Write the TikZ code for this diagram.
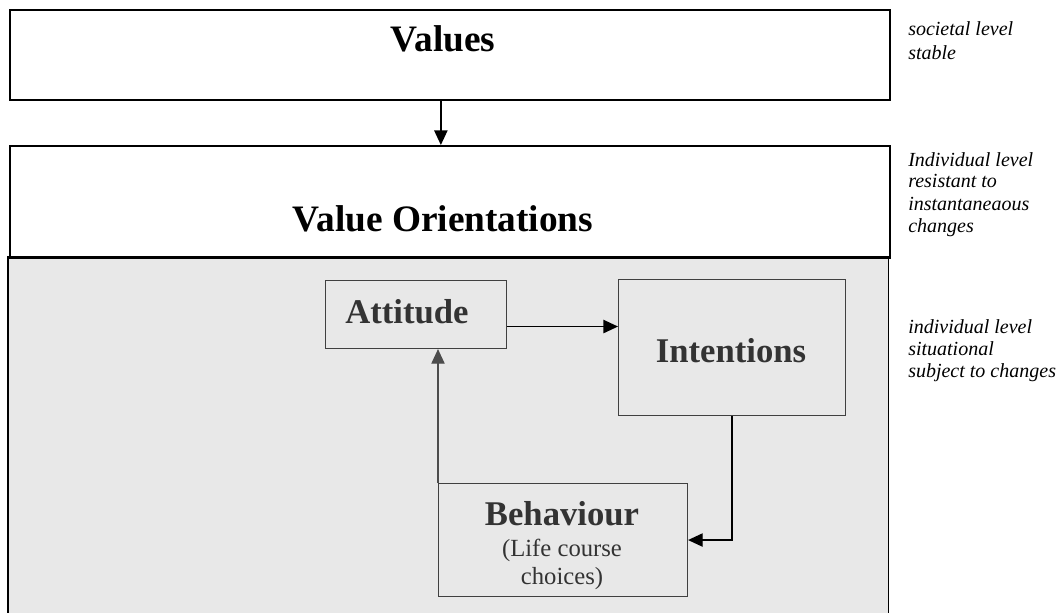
\documentclass[tikz,border=0pt]{standalone}
\usepackage{fontspec}
\setmainfont{Liberation Serif}
\usetikzlibrary{arrows.meta,positioning}

\begin{document}
\begin{tikzpicture}[x=0.75pt,y=-0.75pt,>={Triangle[length=11pt,width=10pt]},
  outer/.style={draw,line width=1.3pt,inner sep=0pt,anchor=north west},
  inner/.style={draw=black!75,line width=0.8pt,inner sep=0pt,anchor=north west},
  headtext/.style={font=\fontsize{28}{33}\selectfont\bfseries,anchor=base},
  boxtext/.style={font=\fontsize{26}{31}\selectfont\bfseries,text=black!80,anchor=base},
  smalltext/.style={font=\fontsize{18.5}{21}\selectfont,text=black!80,anchor=base},
  side/.style={font=\fontsize{15}{16.5}\selectfont\itshape,anchor=base west,align=left,inner sep=0pt}]
  \useasboundingbox (0,0) rectangle (1060,613);

  % grey context area, its bottom runs off the page
  \node[fill=black!9,inner sep=0pt,anchor=north west,minimum width=660pt,minimum height=267pt] (ctx) at (8,257) {};
  \draw[line width=1.3pt] (ctx.south west) -- (ctx.north west) -- (ctx.north east) -- (ctx.south east);

  \node[outer,minimum width=660pt,minimum height=67.5pt] (values) at (9,9) {};
  \node[outer,minimum width=660pt,minimum height=84pt] (vo) at (9,145) {};
  \node[headtext] (valuestxt) at (443,52) {Values};
  \node[headtext] (votxt) at (443,231) {Value Orientations};

  \node[inner,minimum width=135.75pt,minimum height=51pt] (att) at (325,280) {};
  \node[inner,minimum width=170.25pt,minimum height=102pt] (int) at (618,279) {};
  \node[inner,minimum width=186.75pt,minimum height=84.75pt] (beh) at (438,483) {};
  \node[boxtext] (atttxt) at (407,323) {Attitude};
  \node[boxtext] (inttxt) at (731,362) {Intentions};
  \node[boxtext] (behtxt) at (562,525) {Behaviour};
  \node[smalltext] (lifetxt) at (562,556) {(Life course};
  \node[smalltext] (choicetxt) at (562,584) {choices)};

  % side notes, anchored on the baseline of their last line
  \node[side,font=\fontsize{15}{18}\selectfont\itshape] (lvl1) at (908,60) {societal level\\stable};
  \node[side] (lvl2) at (908,232) {Individual level\\resistant to\\instantaneaous\\changes};
  \node[side] (lvl3) at (908,377) {individual level\\situational\\subject to changes};

  \draw[->,line width=1.1pt] ([xshift=-6.75pt]values.south) -- ([xshift=-6.75pt]vo.north);
  \draw[->,line width=1.1pt] ([yshift=-9pt]att.east) -- ([yshift=-9pt]att.east -| int.west);
  \draw[->,line width=1.1pt] (int.south) |- (beh.east);
  \draw[->,line width=0.9pt,draw=black!70] (beh.north west) -- (beh.north west |- att.south);

\end{tikzpicture}
\end{document}
